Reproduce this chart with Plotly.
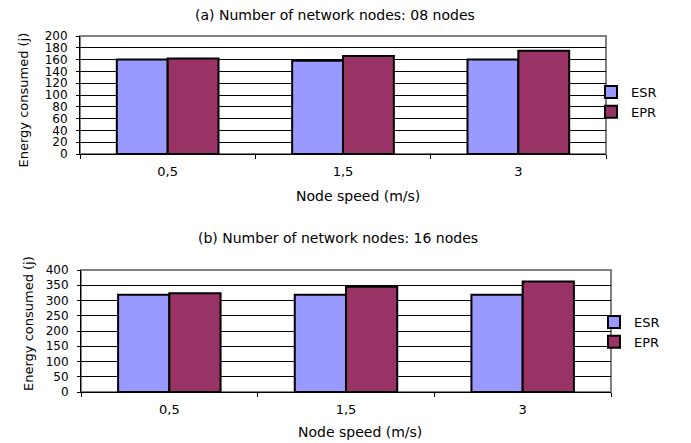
import plotly.graph_objects as go

speeds = ["0,5", "1,5", "3"]
esr_08 = [160, 158, 160]
epr_08 = [162, 166, 175]
esr_16 = [319, 319, 319]
epr_16 = [324, 345, 362]

W, H = 691, 443
OFF = 8  # page body margin offset
FONT = "DejaVu Sans, Verdana, sans-serif"
ESR_C = "#9999FF"
EPR_C = "#993366"

fig = go.Figure()

def add_pair(esr, epr, xa, ya, legend):
    fig.add_trace(go.Bar(x=speeds, y=esr, name="ESR", marker=dict(color=ESR_C, line=dict(color="black", width=2)),
                         xaxis=xa, yaxis=ya, legend=legend))
    fig.add_trace(go.Bar(x=speeds, y=epr, name="EPR", marker=dict(color=EPR_C, line=dict(color="black", width=2)),
                         xaxis=xa, yaxis=ya, legend=legend))

add_pair(esr_08, epr_08, "x", "y", "legend")
add_pair(esr_16, epr_16, "x2", "y2", "legend2")

def fx(p):
    return (p - OFF) / W

def fy(p):
    return 1 - (p - OFF) / H

xcommon = dict(type="category", tickson="boundaries", ticks="outside", ticklen=4, tickcolor="black",
               showline=True, linecolor="black", linewidth=1, showgrid=False, automargin=False,
               tickfont=dict(family=FONT, size=13, color="black"), ticklabelstandoff=5)
ycommon = dict(ticks="outside", ticklen=3, tickcolor="black", showline=True, linecolor="black", linewidth=1,
               showgrid=True, gridcolor="black", gridwidth=1, zeroline=False, automargin=False,
               tickfont=dict(family=FONT, size=12, color="black"), ticklabelstandoff=6)

def ann(text, x, y, size=14, angle=0):
    return dict(text=text, x=fx(x), y=fy(y), xref="paper", yref="paper", showarrow=False,
                xanchor="center", yanchor="middle",
                textangle=angle, font=dict(family=FONT, size=size, color="black"))

fig.update_layout(
    width=W, height=H,
    margin=dict(l=0, r=0, t=0, b=0, autoexpand=False),
    paper_bgcolor="white", plot_bgcolor="white",
    bargap=0.42, bargroupgap=0,
    font=dict(family=FONT, size=12, color="black"),
    xaxis=dict(domain=[fx(80), fx(606)], anchor="y", **xcommon),
    yaxis=dict(domain=[fy(154), fy(36)], anchor="x", range=[0, 200], dtick=20, **ycommon),
    xaxis2=dict(domain=[fx(81), fx(611)], anchor="y2", **xcommon),
    yaxis2=dict(domain=[fy(392), fy(270)], anchor="x2", range=[0, 400], dtick=50, **ycommon),
    legend=dict(x=fx(591), y=fy(77), xanchor="left", yanchor="top", tracegroupgap=0,
                font=dict(family=FONT, size=13), itemwidth=30, bgcolor="rgba(0,0,0,0)"),
    legend2=dict(x=fx(594), y=fy(307), xanchor="left", yanchor="top", tracegroupgap=0,
                 font=dict(family=FONT, size=13), itemwidth=30, bgcolor="rgba(0,0,0,0)"),
    annotations=[
        ann("(a) Number of network nodes: 08 nodes", 334.5, 15),
        ann("(b) Number of network nodes: 16 nodes", 337.5, 238),
        ann("Node speed (m/s)", 358, 196),
        ann("Node speed (m/s)", 359.5, 432),
        ann("Energy consumed (j)", 22.5, 100, size=13, angle=-90),
        ann("Energy consumed (j)", 28, 324, size=13, angle=-90),
    ],
    shapes=[
        dict(type="rect", xref="x domain", yref="y domain", x0=0, x1=1, y0=0, y1=1,
             line=dict(color="#808080", width=2), layer="below"),
        dict(type="rect", xref="x2 domain", yref="y2 domain", x0=0, x1=1, y0=0, y1=1,
             line=dict(color="#808080", width=2), layer="below"),
    ],
)

fig.write_html("out.html")
